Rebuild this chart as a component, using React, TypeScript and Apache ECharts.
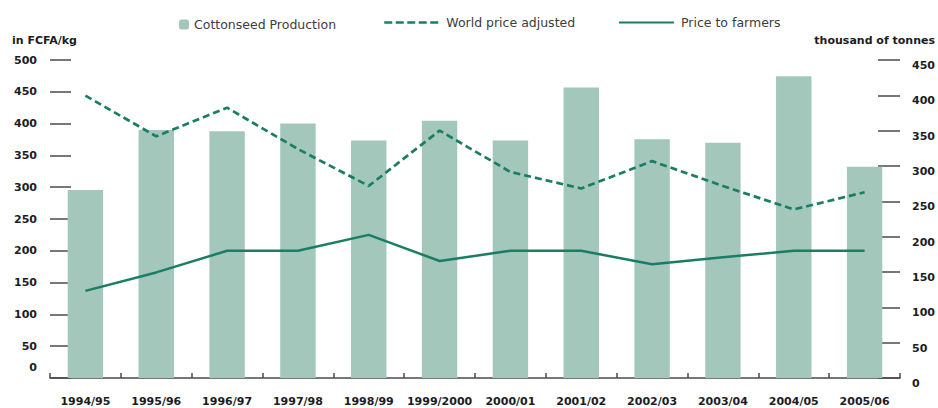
import React, { useEffect, useRef } from "react";
import * as echarts from "echarts";

// Marketing seasons
const seasons = [
  "1994/95", "1995/96", "1996/97", "1997/98", "1998/99", "1999/2000",
  "2000/01", "2001/02", "2002/03", "2003/04", "2004/05", "2005/06",
];

// Cottonseed production, thousand of tonnes (right axis)
const cottonseedProduction = [266, 351, 349, 360, 336, 364, 336, 411, 338, 333, 427, 299];

// World price adjusted, FCFA/kg (left axis)
const worldPriceAdjusted = [444, 380, 425, 360, 302, 389, 324, 298, 341, 302, 265, 292];

// Price paid to farmers, FCFA/kg (left axis)
const priceToFarmers = [137, 166, 200, 200, 225, 184, 200, 200, 179, 190, 200, 200];

const BAR_COLOR = "#a4c7bb";
const LINE_COLOR = "#1a7e65";
const AXIS_COLOR = "#4a4a4a";
const LABEL_COLOR = "#1c1c24";
const FONT = "'DejaVu Sans', sans-serif";

export default function App() {
  const ref = useRef<HTMLDivElement>(null);

  useEffect(() => {
    if (!ref.current) return;
    const chart = echarts.init(ref.current, null, { renderer: "svg" });

    const legendText = { fontFamily: FONT, fontSize: 12.5, color: "#3c3c3c" };

    chart.setOption({
      animation: false,
      backgroundColor: "#ffffff",
      textStyle: { fontFamily: FONT },
      legend: [
        {
          data: ["Cottonseed Production"],
          left: 174,
          top: 13,
          itemWidth: 10,
          itemHeight: 10,
          itemGap: 0,
          textStyle: legendText,
          selectedMode: false,
        },
        {
          data: ["World price adjusted"],
          left: 378,
          top: 11,
          itemWidth: 55,
          itemHeight: 14,
          itemStyle: { opacity: 0 },
          lineStyle: { width: 2.5, type: [8, 3.5] },
          textStyle: { ...legendText, padding: [0, 0, 0, 2] },
          selectedMode: false,
        },
        {
          data: ["Price to farmers"],
          left: 613,
          top: 11,
          itemWidth: 55,
          itemHeight: 14,
          itemStyle: { opacity: 0 },
          textStyle: { ...legendText, padding: [0, 0, 0, 2] },
          selectedMode: false,
        },
      ],
      graphic: [
        {
          type: "text",
          left: 12,
          top: 35,
          style: {
            text: "in FCFA/kg",
            font: `bold 11px ${FONT}`,
            fill: LABEL_COLOR,
          },
        },
        {
          type: "text",
          right: 3,
          top: 35,
          style: {
            text: "thousand of tonnes",
            font: `bold 11px ${FONT}`,
            fill: LABEL_COLOR,
          },
        },
      ],
      grid: {
        left: 50,
        right: 38,
        top: 60,
        bottom: 30,
        outerBoundsMode: "none",
      },
      xAxis: {
        type: "category",
        data: seasons,
        axisLine: { show: true, lineStyle: { color: AXIS_COLOR, width: 1.5 } },
        axisTick: {
          show: true,
          inside: true,
          length: 5,
          interval: 0,
          lineStyle: { color: AXIS_COLOR, width: 1.5 },
        },
        axisLabel: {
          interval: 0,
          margin: 18,
          lineHeight: 11,
          fontFamily: FONT,
          fontSize: 11,
          fontWeight: "bold",
          color: LABEL_COLOR,
        },
        splitLine: { show: false },
      },
      yAxis: [
        {
          type: "value",
          position: "left",
          min: 0,
          max: 500,
          interval: 50,
          axisLine: { show: false },
          axisTick: {
            show: true,
            inside: true,
            length: 21,
            lineStyle: { color: AXIS_COLOR, width: 1.5 },
          },
          splitLine: { show: false },
          axisLabel: {
            margin: 13,
            fontFamily: FONT,
            fontSize: 11,
            fontWeight: "bold",
            color: LABEL_COLOR,
            formatter: (v: number) => (v === 0 ? "{zero|0}" : String(v)),
            rich: {
              zero: {
                fontFamily: FONT,
                fontSize: 11,
                fontWeight: "bold",
                color: LABEL_COLOR,
                padding: [0, 0, 22, 0],
              },
            },
          },
        },
        {
          type: "value",
          position: "right",
          min: 0,
          max: 450,
          interval: 50,
          axisLine: { show: false },
          axisTick: {
            show: true,
            inside: true,
            length: 22,
            lineStyle: { color: AXIS_COLOR, width: 1.5 },
          },
          splitLine: { show: false },
          axisLabel: {
            margin: 12,
            verticalAlign: "top",
            fontFamily: FONT,
            fontSize: 11,
            fontWeight: "bold",
            color: LABEL_COLOR,
          },
        },
      ],
      series: [
        {
          name: "Cottonseed Production",
          type: "bar",
          yAxisIndex: 1,
          data: cottonseedProduction,
          barWidth: "50%",
          itemStyle: { color: BAR_COLOR },
        },
        {
          name: "World price adjusted",
          type: "line",
          yAxisIndex: 0,
          data: worldPriceAdjusted,
          symbol: "none",
          lineStyle: { color: LINE_COLOR, width: 2.7, type: [7, 4] },
          itemStyle: { color: LINE_COLOR },
          z: 3,
        },
        {
          name: "Price to farmers",
          type: "line",
          yAxisIndex: 0,
          data: priceToFarmers,
          symbol: "none",
          lineStyle: { color: LINE_COLOR, width: 2.5 },
          itemStyle: { color: LINE_COLOR },
          z: 3,
        },
      ],
    });

    return () => chart.dispose();
  }, []);

  return (
    <div
      ref={ref}
      style={{ position: "absolute", left: 0, top: 0, width: 938, height: 408 }}
    />
  );
}
